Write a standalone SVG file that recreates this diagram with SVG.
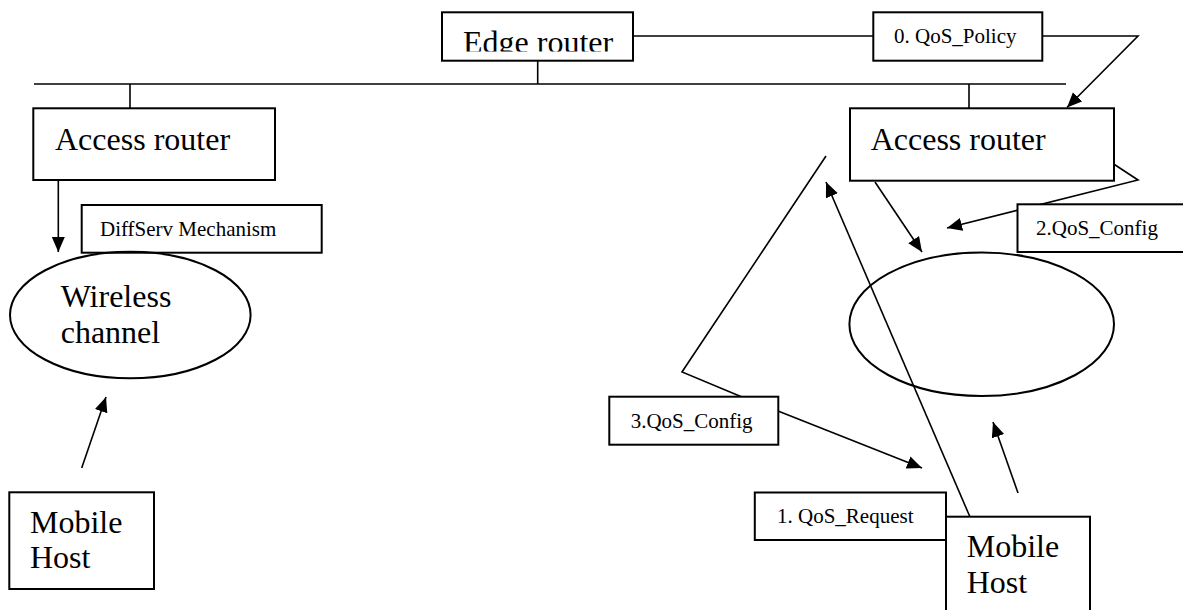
<svg xmlns="http://www.w3.org/2000/svg" width="1183" height="610" viewBox="0 0 1183 610">
<style>
.box{fill:#fff;stroke:#000;stroke-width:2}
.ell{fill:none;stroke:#000;stroke-width:2}
.ln{fill:none;stroke:#000;stroke-width:1.6}
.big{font-family:"Liberation Serif","Times New Roman",serif;font-size:32px;fill:#000}
.sm{font-family:"Liberation Serif","Times New Roman",serif;font-size:21px;fill:#000}
</style>
<defs>
<marker id="ah" markerUnits="userSpaceOnUse" markerWidth="16" markerHeight="14" refX="15" refY="6.5" orient="auto">
<path d="M0,0 L15,6.5 L0,13 z" fill="#000"/>
</marker>
<clipPath id="edgeClip"><rect x="442" y="12" width="191" height="39.5"/></clipPath>
</defs>
<rect width="1183" height="610" fill="#fff"/>
<g id="connectors">
<line class="ln" x1="633" y1="36" x2="873" y2="36"/>
<line class="ln" x1="537.7" y1="60.7" x2="537.7" y2="84"/>
<line class="ln" x1="34" y1="84" x2="1066" y2="84"/>
<line class="ln" x1="130" y1="84" x2="130" y2="108"/>
<line class="ln" x1="969" y1="84" x2="969" y2="108"/>
<polyline class="ln" points="1042,36 1138,36 1067,107.5" marker-end="url(#ah)"/>
<line class="ln" x1="58.3" y1="180" x2="58.3" y2="252" marker-end="url(#ah)"/>
<line class="ln" x1="81.7" y1="468" x2="106" y2="397" marker-end="url(#ah)"/>
<polyline class="ln" points="1065,132 1138,180 947,228" marker-end="url(#ah)"/>
<line class="ln" x1="875" y1="182" x2="922" y2="252" marker-end="url(#ah)"/>
<line class="ln" x1="970" y1="517" x2="826" y2="182" marker-end="url(#ah)"/>
<polyline class="ln" points="826,156 682,372 742,397"/>
<line class="ln" x1="778" y1="411" x2="922" y2="468" marker-end="url(#ah)"/>
<line class="ln" x1="1018" y1="493" x2="993" y2="422" marker-end="url(#ah)"/>
</g>
<g id="edge-router">
<rect class="box" x="442" y="12.3" width="191" height="48.4"/>
<text class="big" x="463" y="53" clip-path="url(#edgeClip)">Edge router</text>
</g>
<g id="qos-policy">
<rect class="box" x="873.3" y="12.3" width="169" height="48.4"/>
<text class="sm" x="894" y="43">0. QoS_Policy</text>
</g>
<g id="access-router-left">
<rect class="box" x="33.3" y="108.3" width="241.7" height="71.7"/>
<text class="big" x="55" y="150">Access router</text>
</g>
<g id="access-router-right">
<rect class="box" x="850" y="108.3" width="264" height="72.4"/>
<text class="big" x="870.7" y="149.5">Access router</text>
</g>
<g id="diffserv">
<rect class="box" x="81.7" y="205" width="240" height="47.7"/>
<text class="sm" x="100" y="236">DiffServ Mechanism</text>
</g>
<g id="wireless-channel">
<ellipse class="ell" cx="130.3" cy="315" rx="120.3" ry="63.3"/>
<text class="big" x="60.7" y="306.7">Wireless</text>
<text class="big" x="60.7" y="342.7">channel</text>
</g>
<g id="qos-config-2">
<rect class="box" x="1017.5" y="204.3" width="175" height="47.7"/>
<text class="sm" x="1036" y="235">2.QoS_Config</text>
</g>
<g id="wireless-channel-right">
<ellipse class="ell" cx="981.7" cy="324.3" rx="132.3" ry="71.7"/>
</g>
<g id="qos-config-3">
<rect class="box" x="609.3" y="396.7" width="169" height="48"/>
<text class="sm" x="630.7" y="428.3">3.QoS_Config</text>
</g>
<g id="qos-request">
<rect class="box" x="754.8" y="492.5" width="191.2" height="47.5"/>
<text class="sm" x="777" y="522.7">1. QoS_Request</text>
</g>
<g id="mobile-host-left">
<rect class="box" x="9.3" y="492.3" width="144.7" height="96.7"/>
<text class="big" x="30" y="533">Mobile</text>
<text class="big" x="30" y="568">Host</text>
</g>
<g id="mobile-host-right">
<rect class="box" x="946" y="516.7" width="144" height="110"/>
<text class="big" x="966.7" y="556.7">Mobile</text>
<text class="big" x="966.7" y="593.3">Host</text>
</g>
</svg>
